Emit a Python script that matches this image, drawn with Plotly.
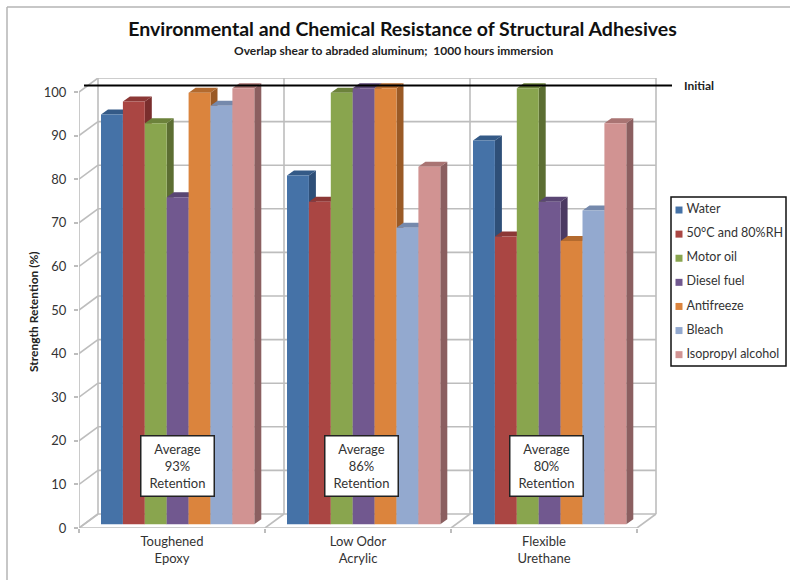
import plotly.graph_objects as go

categories = ["Toughened<br>Epoxy", "Low Odor<br>Acrylic", "Flexible<br>Urethane"]
series_names = ["Water", "50°C and 80%RH", "Motor oil", "Diesel fuel",
                "Antifreeze", "Bleach", "Isopropyl alcohol"]
water = [94, 80, 88]
rh_50c = [97, 74, 66]
motor_oil = [92, 99, 100]
diesel = [75, 100, 74]
antifreeze = [99, 100, 65]
bleach = [96, 68, 72]
isopropyl = [100, 82, 92]
series_values = [water, rh_50c, motor_oil, diesel, antifreeze, bleach, isopropyl]
averages = [93, 86, 80]
y_ticks = list(range(0, 101, 10))
initial_level = 100

front = ["#4572A7", "#AA4643", "#89A54E", "#71588F", "#DB843D", "#93A9CF", "#D19392"]
side = ["#2E4F78", "#7A2E2D", "#5C6E32", "#4C3A62", "#9A5A26", "#6E7F9C", "#8B5F60"]
top = ["#345A87", "#8C3836", "#6C823B", "#5A4673", "#B36A2E", "#7589AC", "#A97473"]

PX_X = 186.0      # pixels per category
PX_Y = 4.36       # pixels per value unit
WALL_DX, WALL_DY = 19 / PX_X, 14 / PX_Y
BAR_DX, BAR_DY = 7 / PX_X, 5 / PX_Y
BAR_W = 21.9 / PX_X
BAR_START = 22 / PX_X
BAR_BASE = 3.7 / PX_Y
BOX_SHIFT = [0, -2 / PX_X, -3 / PX_X]
GRID = "#BDBDBD"
TEXT = "#333333"
FONT = "Lato"

fig = go.Figure()

# walls and floor
gx, gy = [], []
def seg(x0, y0, x1, y1):
    gx.extend([x0, x1, None])
    gy.extend([y0, y1, None])
for v in y_ticks:
    seg(WALL_DX, v + WALL_DY, 3 + WALL_DX, v + WALL_DY)
    seg(0, v, WALL_DX, v + WALL_DY)
for c in range(4):
    seg(c + WALL_DX, WALL_DY, c + WALL_DX, 100 + WALL_DY)
    seg(c, 0, c + WALL_DX, WALL_DY)
seg(0, 0, 0, 100)
seg(0, 0, 3, 0)
fig.add_trace(go.Scatter(x=gx, y=gy, mode="lines", line=dict(color=GRID, width=1.6),
                         hoverinfo="skip", showlegend=False, cliponaxis=False, zorder=0))

# bars: side and top faces, then the front face
for i, (name, vals) in enumerate(zip(series_names, series_values)):
    lefts = [c + BAR_START + i * BAR_W for c in range(3)]
    sx, sy, tx, ty = [], [], [], []
    for l, v in zip(lefts, vals):
        r = l + BAR_W
        h = BAR_BASE + v
        sx += [r, r + BAR_DX, r + BAR_DX, r, r, None]
        sy += [BAR_BASE, BAR_BASE + BAR_DY, h + BAR_DY, h, BAR_BASE, None]
        tx += [l, l + BAR_DX, r + BAR_DX, r, l, None]
        ty += [h, h + BAR_DY, h + BAR_DY, h, h, None]
    fig.add_trace(go.Scatter(x=sx, y=sy, mode="lines", fill="toself", fillcolor=side[i],
                             line=dict(width=0, color=side[i]), hoverinfo="skip",
                             showlegend=False, cliponaxis=False, zorder=2 * i + 1))
    fig.add_trace(go.Scatter(x=tx, y=ty, mode="lines", fill="toself", fillcolor=top[i],
                             line=dict(width=0, color=top[i]), hoverinfo="skip",
                             showlegend=False, cliponaxis=False, zorder=2 * i + 1))
    fig.add_trace(go.Bar(x=[l + BAR_W / 2 for l in lefts], y=vals, base=BAR_BASE, width=BAR_W,
                         name=name, marker=dict(color=front[i], line=dict(width=0)),
                         showlegend=False, cliponaxis=False, zorder=2 * i + 2))

# initial strength line
fig.add_trace(go.Scatter(x=[5 / PX_X, 593 / PX_X], y=[initial_level + 1.5] * 2, mode="lines",
                         line=dict(color="#000000", width=2), hoverinfo="skip",
                         showlegend=False, cliponaxis=False, zorder=40))

# legend panel
rows = list(range(len(series_names)))
fig.add_trace(go.Scatter(x=[8] * 7, y=rows, mode="markers",
                         marker=dict(symbol="square", size=7, color=front),
                         hoverinfo="skip", showlegend=False, xaxis="x2", yaxis="y2",
                         cliponaxis=False))
fig.add_trace(go.Scatter(x=[15.5] * 7, y=rows, mode="text", text=series_names,
                         textposition="middle right",
                         textfont=dict(family=FONT, size=12.5, color=TEXT),
                         hoverinfo="skip", showlegend=False, xaxis="x2", yaxis="y2",
                         cliponaxis=False))

annotations = []
for c, avg in enumerate(averages):
    annotations.append(dict(x=c + BAR_START + 3.5 * BAR_W + BOX_SHIFT[c], y=14.2, xref="x", yref="y",
                            text=f"Average<br>{avg}%<br>Retention", showarrow=False,
                            font=dict(family=FONT, size=13, color=TEXT),
                            bgcolor="white", bordercolor="#222222", borderwidth=1.5,
                            width=70, height=57, align="center"))
annotations.append(dict(x=682 / 790, y=1 - 86 / 580, xref="paper", yref="paper",
                        text="<b>Initial</b>", showarrow=False, xanchor="left", yanchor="middle",
                        font=dict(family=FONT, size=12, color="#222222")))
annotations.append(dict(x=33 / 790, y=1 - 312 / 580, xref="paper", yref="paper",
                        text="<b>Strength Retention (%)</b>", showarrow=False, textangle=-90,
                        xanchor="center", yanchor="middle",
                        font=dict(family=FONT, size=12, color="#222222")))
annotations.append(dict(x=393.5 / 790, y=1 - 50 / 580, xref="paper", yref="paper",
                        text="<b>Overlap shear to abraded aluminum;  1000 hours immersion</b>",
                        showarrow=False, xanchor="center", yanchor="middle",
                        font=dict(family=FONT, size=12, color="#222222")))

shapes = [
    dict(type="line", xref="paper", yref="paper", x0=7 / 790, x1=1, y0=1 - 7 / 580, y1=1 - 7 / 580,
         line=dict(color="#B5B5B5", width=1.5)),
    dict(type="line", xref="paper", yref="paper", x0=7 / 790, x1=7 / 790, y0=0, y1=1 - 7 / 580,
         line=dict(color="#B5B5B5", width=1.5)),
    dict(type="rect", xref="x2 domain", yref="y2 domain", x0=0, x1=1, y0=0, y1=1,
         line=dict(color="#111111", width=1.5), layer="above"),
]

fig.update_layout(
    width=790, height=580, autosize=False,
    margin=dict(l=0, r=0, t=0, b=0, pad=0),
    paper_bgcolor="white", plot_bgcolor="rgba(0,0,0,0)",
    barmode="overlay", showlegend=False,
    font=dict(family=FONT, color=TEXT),
    title=dict(text="<b>Environmental and Chemical Resistance of Structural Adhesives</b>",
               x=402.5 / 790, xanchor="center", xref="paper",
               y=1 - 29 / 580, yanchor="middle", yref="container", automargin=False,
               font=dict(family=FONT, size=19.5, color="#111111")),
    xaxis=dict(domain=[79 / 790, 680 / 790], range=[0, 601 / PX_X], tickmode="array",
               tickvals=[0.5, 1.5, 2.5], automargin=False,
               ticktext=categories, ticks="", showgrid=False, zeroline=False, showline=False,
               tickfont=dict(family=FONT, size=13, color=TEXT), ticklabelstandoff=4,
               minor=dict(tickmode="array", tickvals=[0, 1, 2, 3], ticks="outside", ticklen=4,
                          tickcolor=GRID, tickwidth=1.5, showgrid=False)),
    yaxis=dict(domain=[1 - 528 / 580, 1 - 78 / 580], range=[0, 450 / PX_Y], tickmode="array",
               tickvals=y_ticks, ticks="outside", automargin=False,
               ticklen=4, tickcolor=GRID, tickwidth=1.5, showgrid=False, zeroline=False,
               showline=False, tickfont=dict(family=FONT, size=13, color=TEXT),
               ticklabelstandoff=5),
    xaxis2=dict(domain=[671 / 790, 786 / 790], range=[0, 115], anchor="y2", showticklabels=False,
                ticks="", showgrid=False, zeroline=False, showline=False, automargin=False),
    yaxis2=dict(domain=[1 - 366 / 580, 1 - 197 / 580], range=[6.47, -0.54], anchor="x2",
                showticklabels=False, ticks="", showgrid=False, zeroline=False, showline=False,
                automargin=False),
    annotations=annotations,
    shapes=shapes,
)

fig.write_html("out.html", config={"displayModeBar": False},
               post_script="document.body.style.margin='0';")
